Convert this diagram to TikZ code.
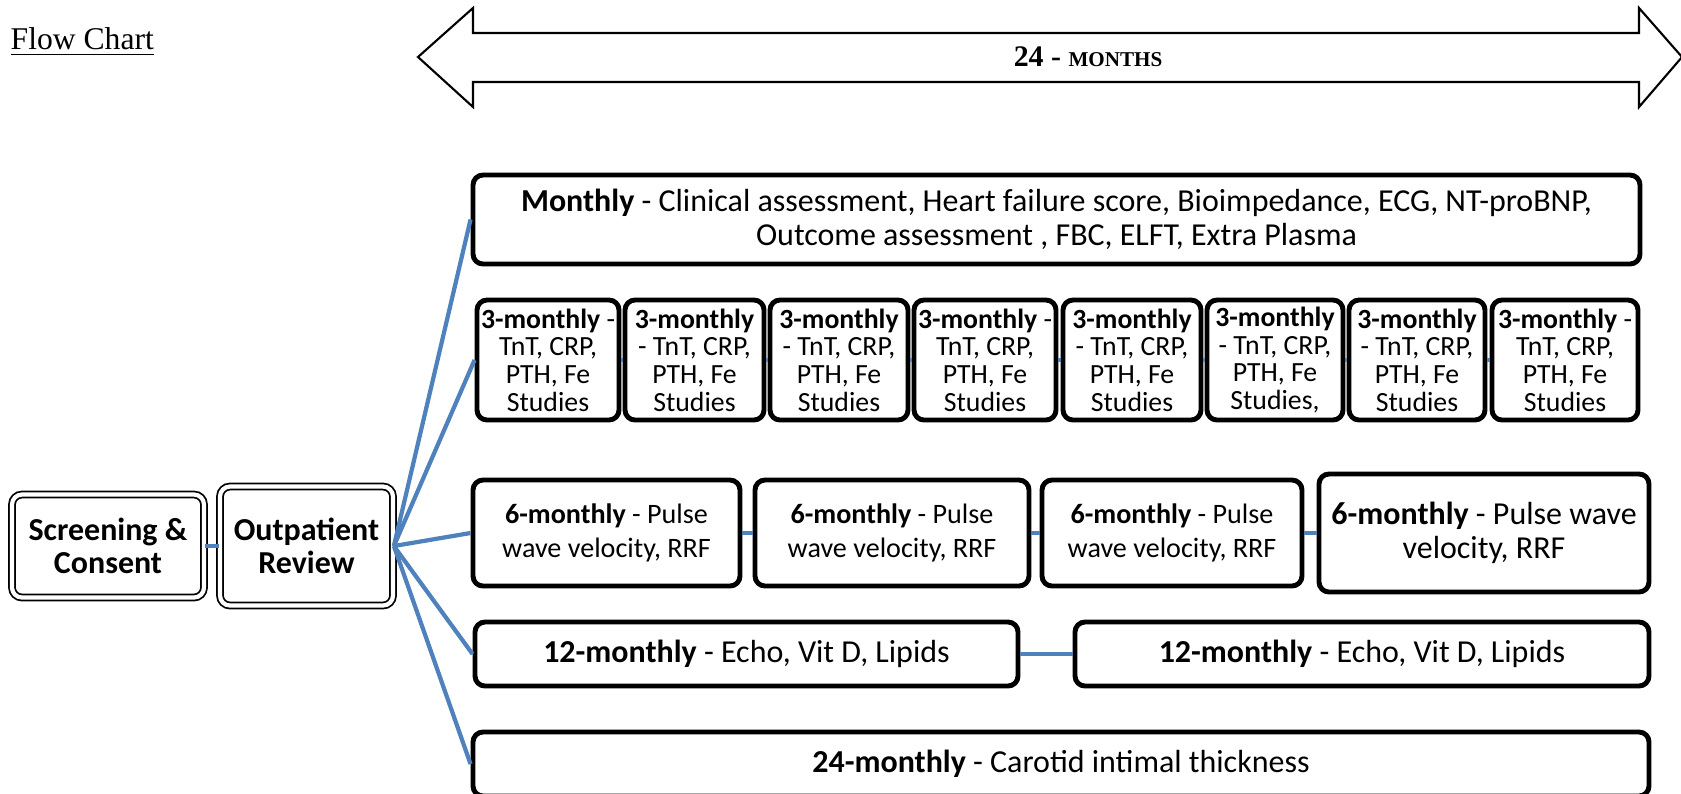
\documentclass[tikz,border=0pt]{standalone}
\usepackage{fontspec}
\setmainfont{Carlito}
\newfontfamily\timesfont{Liberation Serif}
\definecolor{linkblue}{HTML}{4F81BD}

\begin{document}
\begin{tikzpicture}[scale=1,
    box/.style={draw, line width=1.4pt, rounded corners=0.1cm, inner sep=0pt,
        align=center, font=\fontsize{9.1}{9.5}\selectfont},
    sixbox/.style={box, font=\fontsize{8}{9.5}\selectfont},
    tribox/.style={box, minimum height=1.2cm, font=\fontsize{7.9}{7.9}\selectfont},
    dbox/.style={draw, double, line width=0.5pt, double distance=1.2pt,
        rounded corners=0.1cm, inner sep=0pt, align=center,
        font=\fontsize{9.1}{9.5}\selectfont\bfseries},
    link/.style={draw=linkblue, line width=1.2pt}]

    % Fix the page size to the reference (1681 x 793 px, 1 px = 0.01 cm)
    \useasboundingbox (0,0) rectangle (16.81,-7.93);

    % Title
    \node[anchor=base west, inner sep=0pt] (title) at (0.10,-0.49)
        {\timesfont\fontsize{9}{11}\selectfont\underline{Flow Chart}};

    % Double headed arrow spanning the 24 months
    \draw[line width=0.6pt] (4.18,-0.57) -- (4.73,-0.08) -- (4.73,-0.33) -- (16.39,-0.33)
        -- (16.39,-0.08) -- (16.82,-0.57) -- (16.39,-1.07) -- (16.39,-0.82)
        -- (4.73,-0.82) -- (4.73,-1.07) -- cycle;
    \node (span) at (10.88,-0.57)
        {\timesfont\bfseries\fontsize{8.5}{10}\selectfont 24 - {\fontsize{6}{7}\selectfont MONTHS}};

    % Entry boxes on the left
    \node[dbox, minimum width=1.92cm, minimum height=1.03cm] (SC) at (1.08,-5.46)
        {Screening \&\\Consent};
    \node[dbox, minimum width=1.73cm, minimum height=1.19cm] (OR) at (3.065,-5.46)
        {Outpatient\\Review};

    % Monthly row
    \node[box, minimum width=11.67cm, minimum height=0.89cm] (M) at (10.565,-2.195)
        {\textbf{Monthly} - Clinical assessment, Heart failure score, Bioimpedance, ECG, NT-proBNP,\\
         Outcome assessment , FBC, ELFT, Extra Plasma};

    % 3-monthly row
    \node[tribox, minimum width=1.42cm] (T1) at (5.48,-3.60)
        {\textbf{3-monthly} -\\TnT, CRP,\\PTH, Fe\\Studies};
    \node[tribox, minimum width=1.39cm] (T2) at (6.945,-3.60)
        {\textbf{3-monthly}\\- TnT, CRP,\\PTH, Fe\\Studies};
    \node[tribox, minimum width=1.38cm] (T3) at (8.39,-3.60)
        {\textbf{3-monthly}\\- TnT, CRP,\\PTH, Fe\\Studies};
    \node[tribox, minimum width=1.42cm] (T4) at (9.85,-3.60)
        {\textbf{3-monthly} -\\TnT, CRP,\\PTH, Fe\\Studies};
    \node[tribox, minimum width=1.38cm] (T5) at (11.32,-3.60)
        {\textbf{3-monthly}\\- TnT, CRP,\\PTH, Fe\\Studies};
    \node[tribox, minimum width=1.36cm] (T6) at (12.75,-3.60)
        {\textbf{3-monthly}\\- TnT, CRP,\\PTH, Fe\\Studies,};
    \node[tribox, minimum width=1.36cm] (T7) at (14.17,-3.60)
        {\textbf{3-monthly}\\- TnT, CRP,\\PTH, Fe\\Studies};
    \node[tribox, minimum width=1.46cm] (T8) at (15.65,-3.60)
        {\textbf{3-monthly} -\\TnT, CRP,\\PTH, Fe\\Studies};

    % 6-monthly row
    \node[sixbox, minimum width=2.67cm, minimum height=1.06cm] (H1) at (6.065,-5.33)
        {\textbf{6-monthly} - Pulse\\wave velocity, RRF};
    \node[sixbox, minimum width=2.74cm, minimum height=1.06cm] (H2) at (8.92,-5.33)
        {\textbf{6-monthly} - Pulse\\wave velocity, RRF};
    \node[sixbox, minimum width=2.60cm, minimum height=1.06cm] (H3) at (11.72,-5.33)
        {\textbf{6-monthly} - Pulse\\wave velocity, RRF};
    \node[box, minimum width=3.30cm, minimum height=1.18cm] (H4) at (14.84,-5.33)
        {\textbf{6-monthly} - Pulse wave\\velocity, RRF};

    % 12-monthly row
    \node[box, minimum width=5.43cm, minimum height=0.64cm] (Y1) at (7.465,-6.54)
        {\textbf{12-monthly} - Echo, Vit D, Lipids};
    \node[box, minimum width=5.74cm, minimum height=0.64cm] (Y2) at (13.62,-6.54)
        {\textbf{12-monthly} - Echo, Vit D, Lipids};

    % 24-monthly row (runs off the bottom edge)
    \node[box, minimum width=11.76cm, minimum height=0.64cm] (B) at (10.61,-7.64)
        {\textbf{24-monthly} - Carotid intimal thickness};

    % Connectors
    \draw[link] (SC) -- (OR);
    \draw[link] (OR.east) -- (M.west);
    \draw[link] (OR.east) -- (T1.west);
    \draw[link] (OR.east) -- (H1.west);
    \draw[link] (OR.east) -- (Y1.west);
    \draw[link] (OR.east) -- (B.west);
    \draw[link] (T1) -- (T2);
    \draw[link] (T2) -- (T3);
    \draw[link] (T3) -- (T4);
    \draw[link] (T4) -- (T5);
    \draw[link] (T5) -- (T6);
    \draw[link] (T6) -- (T7);
    \draw[link] (T7) -- (T8);
    \draw[link] (H1) -- (H2);
    \draw[link] (H2) -- (H3);
    \draw[link] (H3) -- (H4);
    \draw[link] (Y1) -- (Y2);

\end{tikzpicture}
\end{document}
